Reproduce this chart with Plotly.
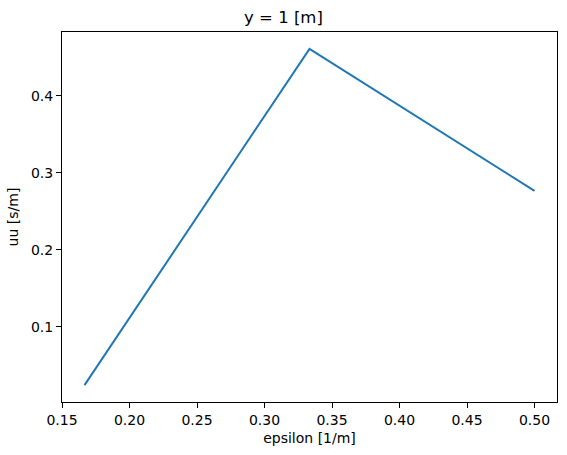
import plotly.graph_objects as go

epsilon = [1/6, 1/3, 1/2]
uu = [0.0244, 0.4607, 0.2765]

x_ticks = [0.15, 0.20, 0.25, 0.30, 0.35, 0.40, 0.45, 0.50]
y_ticks = [0.1, 0.2, 0.3, 0.4]

fig = go.Figure()
fig.add_trace(go.Scatter(x=epsilon, y=uu, mode="lines",
                         line=dict(color="#1f77b4", width=2)))

font = dict(family="DejaVu Sans", size=14, color="black")
xr = [min(epsilon) - 0.05*(max(epsilon)-min(epsilon)), max(epsilon) + 0.05*(max(epsilon)-min(epsilon))]
yr = [min(uu) - 0.05*(max(uu)-min(uu)), max(uu) + 0.05*(max(uu)-min(uu))]

axis_common = dict(showline=True, linecolor="black", linewidth=1.1, mirror=True,
                   ticks="outside", ticklen=5, tickwidth=1.1, tickcolor="black",
                   showgrid=False, zeroline=False, tickfont=font)

fig.update_layout(
    width=567, height=455,
    margin=dict(l=62, r=10, t=32, b=53),
    paper_bgcolor="white", plot_bgcolor="white",
    showlegend=False,
    font=font,
    title=dict(text="y = 1 [m]", x=0.5, xanchor="center", y=1 - 17/455, yanchor="middle",
               font=dict(family="DejaVu Sans", size=16.5, color="black")),
    xaxis=dict(range=xr, tickvals=x_ticks, ticktext=[f"{v:.2f}" for v in x_ticks],
               title=dict(text="epsilon [1/m]", font=font, standoff=6), **axis_common),
    yaxis=dict(range=yr, tickvals=y_ticks, ticktext=[f"{v:.1f}" for v in y_ticks],
               title=dict(text="uu [s/m]", font=font, standoff=8), **axis_common),
)

fig.write_html("out.html")
